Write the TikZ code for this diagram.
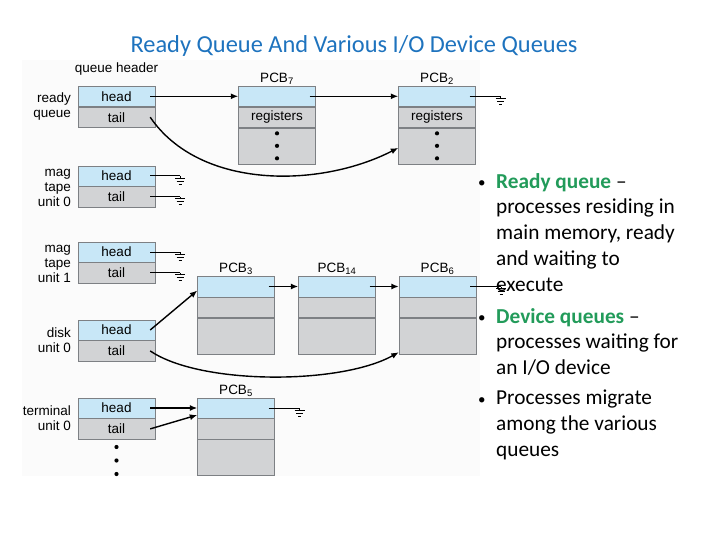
\documentclass[tikz,border=0pt]{standalone}
\usepackage{fontspec}
\setmainfont{Carlito}
\setsansfont{Liberation Sans}
\usetikzlibrary{positioning,arrows.meta}

\definecolor{headblue}{RGB}{200,231,247}
\definecolor{bodygray}{RGB}{210,211,213}
\definecolor{edgegray}{RGB}{125,128,132}
\definecolor{titleblue}{RGB}{30,115,190}
\definecolor{keygreen}{RGB}{34,155,90}

\tikzset{
  hcell/.style={draw=edgegray, fill=headblue, minimum width=77pt, minimum height=20.5pt,
    inner sep=0pt, font=\sffamily\fontsize{13.5}{15}\selectfont},
  bcell/.style={hcell, fill=bodygray},
  dcell/.style={bcell, minimum height=36pt},
  qlabel/.style={font=\sffamily\fontsize{13.5}{14.8}\selectfont, inner sep=1pt},
  link/.style={line width=1.4pt, -{Latex[length=7.5pt,width=6pt]}},
  nil/.style={line width=1pt},
  gnd/.pic={\draw[line width=0.9pt] (0,0) -- (0,2) (-5,2) -- (5,2) (-3.5,5) -- (3.5,5) (-1.5,8) -- (1.5,8);},
  bul/.style={font=\fontsize{15}{20}\selectfont, inner sep=0pt, anchor=base west},
  btext/.style={font=\fontsize{21.3}{25.8}\selectfont, inner sep=0pt, align=left, anchor=north west}
}

\begin{document}
\begin{tikzpicture}[x=1pt,y=-1pt]
    \useasboundingbox (0,0) rectangle (720,540);
    \fill [black!1.5] (22,60) rectangle (480,476);

    % title
    \node [anchor=base, text=titleblue, font=\fontsize{24.4}{28}\selectfont] (title) at (354,53) {Ready Queue And Various I/O Device Queues};

    % queue headers
    \node [qlabel, anchor=base] (qhdr) at (116.5,73) {queue header};

    \node [hcell] (rqh) at (116.5,96.3) {head};
    \node [bcell, below=0pt of rqh] (rqt) {tail};
    \node [qlabel, align=right, anchor=east] (rqlab) at (72,106.5) {ready\\queue};

    \node [hcell] (m0h) at (116.5,176) {head};
    \node [bcell, below=0pt of m0h] (m0t) {tail};
    \node [qlabel, align=right, anchor=east] (m0lab) at (72,188) {mag\\tape\\unit 0};

    \node [hcell] (m1h) at (116.5,252) {head};
    \node [bcell, below=0pt of m1h] (m1t) {tail};
    \node [qlabel, align=right, anchor=east] (m1lab) at (72,264) {mag\\tape\\unit 1};

    \node [hcell] (dkh) at (116.5,330) {head};
    \node [bcell, below=0pt of dkh] (dkt) {tail};
    \node [qlabel, align=right, anchor=east] (dklab) at (72,340.5) {disk\\unit 0};

    \node [hcell] (tmh) at (116.5,408) {head};
    \node [bcell, below=0pt of tmh] (tmt) {tail};
    \node [qlabel, align=right, anchor=east] (tmlab) at (72,418.5) {terminal\\unit 0};

    % more queues
    \fill (116.5,447) circle [radius=2.1];
    \fill (116.5,460.5) circle [radius=2.1];
    \fill (116.5,474) circle [radius=2.1];

    % PCBs of the ready queue
    \node [hcell] (p7h) at (277,96.3) {};
    \node [bcell, below=0pt of p7h] (p7r) {registers};
    \node [dcell, below=0pt of p7r] (p7d) {};
    \node [qlabel, above=0pt of p7h] (p7lab) {PCB\textsubscript{7}};

    \node [hcell] (p2h) at (437,96.3) {};
    \node [bcell, below=0pt of p2h] (p2r) {registers};
    \node [dcell, below=0pt of p2r] (p2d) {};
    \node [qlabel, above=0pt of p2h] (p2lab) {PCB\textsubscript{2}};

    \foreach \p in {p7d,p2d} {
        \fill ([yshift=12.5pt]\p.center) circle [radius=2.1];
        \fill (\p.center) circle [radius=2.1];
        \fill ([yshift=-12.5pt]\p.center) circle [radius=2.1];
    }

    % PCBs of disk unit 0
    \node [hcell] (p3h) at (236,286.5) {};
    \node [bcell, below=0pt of p3h] (p3r) {};
    \node [dcell, below=0pt of p3r] (p3d) {};
    \node [qlabel, above=0pt of p3h] (p3lab) {PCB\textsubscript{3}};

    \node [hcell] (p14h) at (337,286.5) {};
    \node [bcell, below=0pt of p14h] (p14r) {};
    \node [dcell, below=0pt of p14r] (p14d) {};
    \node [qlabel, above=0pt of p14h] (p14lab) {PCB\textsubscript{14}};

    \node [hcell] (p6h) at (437.5,286.5) {};
    \node [bcell, below=0pt of p6h] (p6r) {};
    \node [dcell, below=0pt of p6r] (p6d) {};
    \node [qlabel, above=0pt of p6h] (p6lab) {PCB\textsubscript{6}};

    % PCB of terminal unit 0
    \node [hcell] (p5h) at (236,408) {};
    \node [bcell, below=0pt of p5h] (p5r) {};
    \node [dcell, below=0pt of p5r] (p5d) {};
    \node [qlabel, above=0pt of p5h] (p5lab) {PCB\textsubscript{5}};

    % ready queue links
    \draw [link] ([xshift=-5pt]rqh.east) -- (p7h.west);
    \draw [link] ([xshift=-6pt]p7h.east) -- (p2h.west);
    \draw [link] ([xshift=-5pt]rqt.east) .. controls (200,190) and (320,188) .. ([yshift=-2pt]p2d.west);
    \draw [nil] ([xshift=-6pt]p2h.east) -- ++(31,0) pic {gnd};

    % empty tape queues
    \draw [nil] ([xshift=-5pt]m0h.east) -- ++(30,0) pic {gnd};
    \draw [nil] ([xshift=-5pt]m0t.east) -- ++(30,0) pic {gnd};
    \draw [nil] ([xshift=-5pt]m1h.east) -- ++(30,0) pic {gnd};
    \draw [nil] ([xshift=-5pt]m1t.east) -- ++(30,0) pic {gnd};

    % disk queue links
    \draw [link] ([xshift=-5pt]dkh.east) -- ([yshift=-4pt]p3h.west);
    \draw [link] ([xshift=-6pt]p3h.east) -- (p14h.west);
    \draw [link] ([xshift=-6pt]p14h.east) -- (p6h.west);
    \draw [link] ([xshift=-5pt]dkt.east) .. controls (200,385) and (340,385) .. ([yshift=2pt]p6d.south west);
    \draw [nil] ([xshift=-6pt]p6h.east) -- ++(31,0) pic {gnd};

    % terminal queue links
    \draw [link] ([xshift=-5pt]tmh.east) -- (p5h.west);
    \draw [link] ([xshift=-5pt]tmt.east) -- ([yshift=-7pt]p5h.west);
    \draw [nil] ([xshift=-6pt]p5h.east) -- ++(31,0) pic {gnd};

    % notes
    \node [bul] (b1) at (478,187.5) {•};
    \node [btext] (t1) at (496,173) {\textcolor{keygreen}{\textbf{Ready queue}} –\\processes residing in\\main memory, ready\\and waiting to\\execute};
    \node [bul] (b2) at (478,322.5) {•};
    \node [btext] (t2) at (496,308) {\textcolor{keygreen}{\textbf{Device queues}} –\\processes waiting for\\an I/O device};
    \node [bul] (b3) at (478,404.5) {•};
    \node [btext] (t3) at (496,390) {Processes migrate\\among the various\\queues};
\end{tikzpicture}
\end{document}
